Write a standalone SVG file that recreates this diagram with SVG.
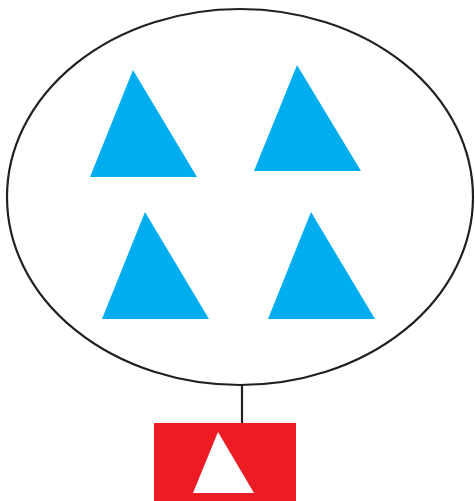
<svg xmlns="http://www.w3.org/2000/svg" width="475" height="501" viewBox="0 0 475 501">
<style>
.blue{fill:#00aeef}
.conn{stroke:#231f20;stroke-width:2.2;fill:none}
</style>
<rect width="475" height="501" fill="#fff"/>
<g id="group-ellipse">
<ellipse cx="240" cy="197" rx="233" ry="188" class="conn"/>
</g>
<g id="tri1"><polygon class="blue" points="133,70 197,177 90,177"/></g>
<g id="tri2"><polygon class="blue" points="297,65 361,171 254,171"/></g>
<g id="tri3"><polygon class="blue" points="145,212 209,319 102,319"/></g>
<g id="tri4"><polygon class="blue" points="311,212 375,319 268,319"/></g>
<g id="connectors">
<line class="conn" x1="242" y1="385" x2="242" y2="423"/>
</g>
<g id="red-node">
<rect x="154" y="423" width="142" height="78" fill="#ed1c24"/>
<polygon points="218,432 254,493 193,493" fill="#fff"/>
</g>
</svg>
